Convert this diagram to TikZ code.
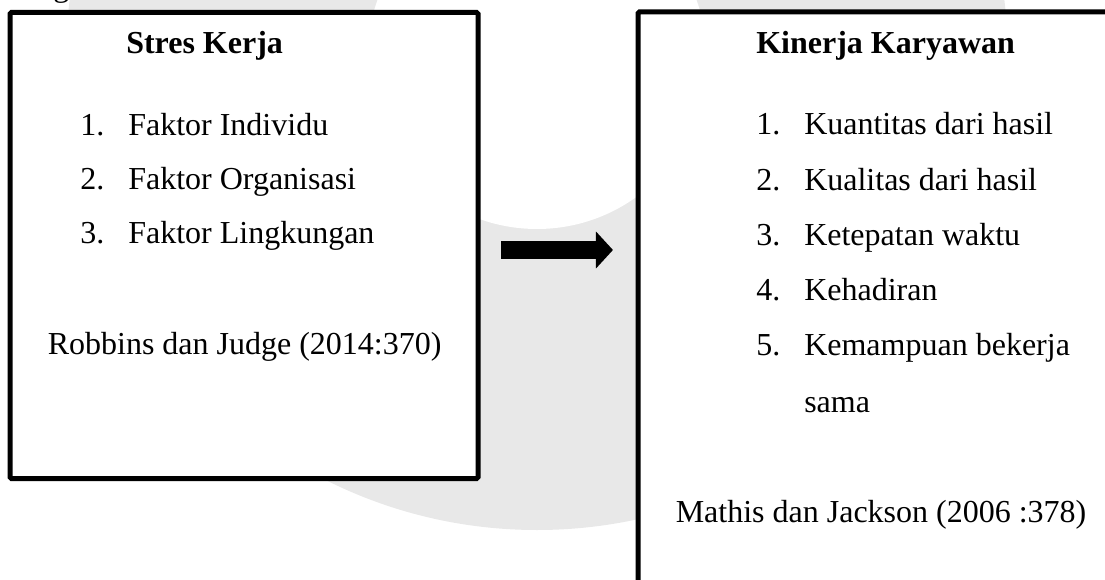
\documentclass[tikz,border=0pt]{standalone}
\usepackage{fontspec}
\setmainfont{Liberation Serif}
\usepackage{tikz}
\usetikzlibrary{arrows.meta}
\newcommand{\besar}{\fontsize{24}{29}\selectfont}
\tikzset{
 kotak/.style={draw, line width=3.75pt, fill=white, rounded corners=1pt, inner sep=0pt},
 teks/.style={anchor=base west, inner sep=0pt, font=\besar},
 judul/.style={teks, font=\besar\bfseries},
 panah/.style={line width=13.5pt, -{Triangle[length=12.75pt, width=27pt]}}
}

\begin{document}
\begin{tikzpicture}[x=0.75pt, y=-0.75pt]
\useasboundingbox (0,0) rectangle (1105,580);
% watermark
\fill[black!9] (537,59) circle[radius=353.25pt];
\fill[white] (537,59) circle[radius=127.5pt];
\node[teks] (potong) at (53,-3) {g};

% kotak kiri dan kanan
\node[kotak, minimum width=351pt, minimum height=349.5pt] (stres) at (244,245.5) {};
\node[kotak, minimum width=391.5pt, minimum height=471pt] (kinerja) at (899,326) {};

\node[judul] (jstres) at (126,54) {Stres Kerja};
\foreach \n/\t/\y in {1/Faktor Individu/136, 2/Faktor Organisasi/190, 3/Faktor Lingkungan/244} {
 \node[teks] (ns\n) at (80,\y) {\n.};
 \node[teks] (ts\n) at (128,\y) {\t};
 }
\node[teks] (rstres) at (47.5,355) {Robbins dan Judge (2014:370)};

\node[judul] (jkinerja) at (756,54) {Kinerja Karyawan};
\foreach \n/\t/\y in {1/Kuantitas dari hasil/135, 2/Kualitas dari hasil/191, 3/Ketepatan waktu/246, 4/Kehadiran/301, 5/Kemampuan bekerja/356} {
 \node[teks] (nk\n) at (756,\y) {\n.};
 \node[teks] (tk\n) at (804,\y) {\t};
 }
\node[teks] (tk6) at (804,412) {sama};
\node[teks] (rkinerja) at (675.5,522) {Mathis dan Jackson (2006 :378)};

\coordinate (pa) at (0,250);
\draw[panah, shorten <=15.4pt, shorten >=16.9pt] (stres.east |- pa) -- (kinerja.west |- pa);

\end{tikzpicture}
\end{document}
